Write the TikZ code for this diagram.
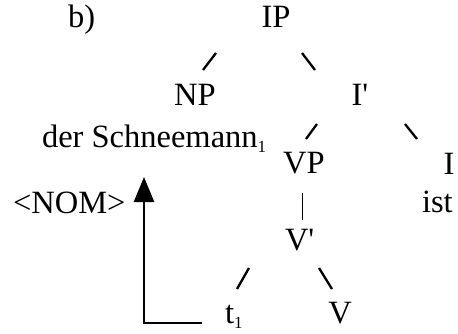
\documentclass[tikz,border=0pt]{standalone}
\usepackage{fontspec}
\setmainfont{Liberation Serif}
\usetikzlibrary{arrows.meta}
\newcommand{\subone}{\raisebox{-5pt}{\fontsize{17}{17}\selectfont 1}}
\begin{document}
\begin{tikzpicture}[x=1pt,y=-1pt,
  lbl/.style={inner sep=0pt,outer sep=0pt,font=\fontsize{32.5}{38}\selectfont},
  branch/.style={line width=2.3pt},
  thinbar/.style={line width=0.8pt},
  move/.style={line width=2.6pt,-{Triangle[length=25pt,width=20pt]}}]
\useasboundingbox (0,0) rectangle (458,334);
\node[lbl,anchor=base west] (b) at (68,28) {b)};
\node[lbl,anchor=base] (ip) at (276,28) {IP};
\node[lbl,anchor=base] (np) at (195,106) {NP};
\node[lbl,anchor=base] (ibar) at (360,106) {I\textquotesingle};
\node[lbl,anchor=base west] (dS) at (42,148) {der Schneemann\subone};
\node[lbl,anchor=base] (vp) at (304,174) {VP};
\node[lbl,anchor=base] (i) at (449,175) {I};
\node[lbl,anchor=base west] (nom) at (13,213) {<NOM>};
\node[lbl,anchor=base west] (ist) at (422,212) {ist};
\node[lbl,anchor=base west] (vbar) at (285,250) {V\textquotesingle};
\node[lbl,anchor=base west] (t) at (225,323) {t\subone};
\node[lbl,anchor=base] (v) at (340,323) {V};
% branch fragments
\coordinate (a1) at (203,70); \coordinate (a2) at (216,53);
\coordinate (a3) at (302,53); \coordinate (a4) at (315,70);
\coordinate (c1) at (306,139); \coordinate (c2) at (317,124);
\coordinate (c3) at (405,124); \coordinate (c4) at (417,139);
\coordinate (d1) at (237,289); \coordinate (d2) at (249,268);
\coordinate (d3) at (319,268); \coordinate (d4) at (332,289);
\coordinate (e1) at (302,193); \coordinate (e2) at (302,220);
\draw[branch] (a1) -- (a2);
\draw[branch] (a3) -- (a4);
\draw[branch] (c1) -- (c2);
\draw[branch] (c3) -- (c4);
\draw[branch] (d1) -- (d2);
\draw[branch] (d3) -- (d4);
\draw[thinbar] (e1) -- (e2);
% movement arrow
\coordinate (m0) at (202,323);
\coordinate (m1) at (144,323);
\coordinate (m2) at (144,177);
\draw[move] (m0) -- (m1) -- (m2);
\end{tikzpicture}
\end{document}
